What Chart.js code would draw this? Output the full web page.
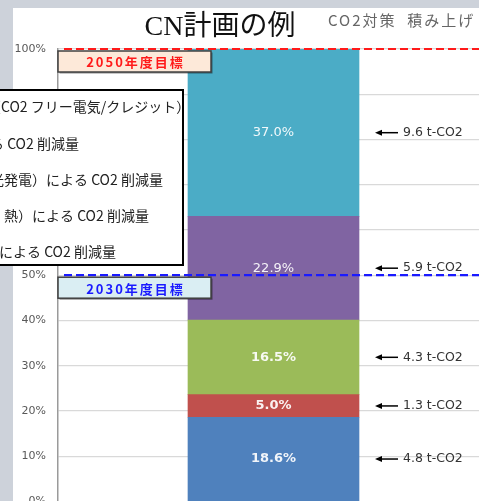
<!DOCTYPE html>
<html lang="ja">
<head>
<meta charset="utf-8">
<title>CN計画の例</title>
<script src="https://cdn.jsdelivr.net/npm/chart.js@4.4.1/dist/chart.umd.min.js"></script>
<style>
  html, body { margin: 0; padding: 0; width: 479px; height: 501px; overflow: hidden; background: #cdd2da; }
  #panel { position: absolute; left: 13px; top: 8px; width: 480px; height: 520px; background: #ffffff; }
  #chart { position: absolute; left: 0; top: 0; }
</style>
</head>
<body>
<div id="panel"></div>
<canvas id="chart" width="489" height="520"></canvas>
<script>
// Data (stack order: bottom -> top)
const categories = ['CN計画'];
const seriesShares = [18.6, 5.0, 16.5, 22.9, 37.0];   // % of total
const seriesTonnes = [4.8, 1.3, 4.3, 5.9, 9.6];       // t-CO2
const legendLabels = [                                 // same order as the series, only the visible part
    'による CO2 削減量',
    '熱）による CO2 削減量',
    '光発電）による CO2 削減量',
    'る CO2 削減量',
    '（CO2 フリー電気/クレジット）'
];
const targetLabels = ['2050年度目標', '2030年度目標'];
const targetValues = [100, 50];
const yMin = 0, yMax = 100, yStep = 10;

// Styles
const seriesColors = ['#4f81bd', '#c0504d', '#9bbb59', '#8064a2', '#4bacc6'];
const labelBold = [true, true, true, false, false];
const targetColors = ['#ff1a1a', '#1a1aff'];
const targetFills = ['#fde9d9', '#daeef3'];
const legendTextX = [-1, 4, -10, -10, -13];   // text start per row (clipped by the window edge)

const slidePlugin = {
    id: 'slide',
    beforeDraw(chart) {
        const ctx = chart.ctx;
        ctx.save();
        ctx.textBaseline = 'middle';
        ctx.fillStyle = '#111';
        ctx.font = '28px "Liberation Serif", "Noto Sans CJK JP", serif';
        ctx.textAlign = 'center';
        ctx.fillText('CN計画の例', 220, 28);
        ctx.fillStyle = '#666';
        ctx.font = '15px "Noto Sans CJK JP", sans-serif';
        ctx.letterSpacing = '2px';
        ctx.textAlign = 'left';
        ctx.fillText('CO2対策  積み上げ', 328, 20);
        ctx.letterSpacing = '0px';
        ctx.restore();
    },
    afterDatasetsDraw(chart) {
        const { ctx, chartArea, scales: { y } } = chart;
        ctx.save();

        // segment labels + arrows on the right
        seriesShares.forEach((v, i) => {
            const bar = chart.getDatasetMeta(i).data[0];
            const c = bar.getCenterPoint();
            ctx.fillStyle = 'rgba(255,255,255,0.92)';
            ctx.font = (labelBold[i] ? 'bold ' : '') + '13px "DejaVu Sans", sans-serif';
            ctx.textAlign = 'center';
            ctx.textBaseline = 'middle';
            ctx.fillText(v.toFixed(1) + '%', c.x, c.y);

            // arrow
            ctx.strokeStyle = '#000';
            ctx.fillStyle = '#000';
            ctx.lineWidth = 1.5;
            ctx.beginPath();
            ctx.moveTo(381, c.y);
            ctx.lineTo(398, c.y);
            ctx.stroke();
            ctx.beginPath();
            ctx.moveTo(375, c.y);
            ctx.lineTo(382, c.y - 3);
            ctx.lineTo(382, c.y + 3);
            ctx.closePath();
            ctx.fill();

            ctx.fillStyle = '#333';
            ctx.font = '12.5px "DejaVu Sans", sans-serif';
            ctx.textAlign = 'left';
            ctx.fillText(seriesTonnes[i].toFixed(1) + ' t-CO2', 403, c.y);
        });

        // target lines and boxes
        targetValues.forEach((t, i) => {
            const py = y.getPixelForValue(t);
            ctx.setLineDash([8, 4]);
            ctx.strokeStyle = targetColors[i];
            ctx.lineWidth = 2.2;
            ctx.beginPath();
            ctx.moveTo(chartArea.left + 6, py);
            ctx.lineTo(chartArea.right, py);
            ctx.stroke();
            ctx.setLineDash([]);

            const bx = chartArea.left, by = py + 2, bw = 153, bh = 21;
            ctx.save();
            ctx.shadowColor = 'rgba(0,0,0,0.45)';
            ctx.shadowOffsetX = 1.5;
            ctx.shadowOffsetY = 1.5;
            ctx.fillStyle = targetFills[i];
            ctx.fillRect(bx, by, bw, bh);
            ctx.restore();
            ctx.strokeStyle = '#404040';
            ctx.lineWidth = 1.5;
            ctx.strokeRect(bx, by, bw, bh);

            ctx.fillStyle = targetColors[i];
            ctx.font = 'bold 13px "Noto Sans CJK JP", sans-serif';
            ctx.letterSpacing = '2px';
            ctx.textAlign = 'center';
            ctx.textBaseline = 'middle';
            ctx.fillText(targetLabels[i], bx + bw / 2 + 1, by + bh / 2 + 1);
            ctx.letterSpacing = '0px';
        });
        ctx.restore();
    },
    afterDraw(chart) {
        // legend box (left part is off-screen)
        const ctx = chart.ctx;
        ctx.save();
        ctx.fillStyle = '#fff';
        ctx.fillRect(-10, 90, 193, 175);
        ctx.strokeStyle = '#000';
        ctx.lineWidth = 2;
        ctx.strokeRect(-10, 90, 193, 175);
        ctx.fillStyle = '#222';
        ctx.font = '14px "Noto Sans CJK JP", sans-serif';
        ctx.textAlign = 'left';
        ctx.textBaseline = 'middle';
        const rows = legendLabels.slice().reverse();
        rows.forEach((txt, r) => {
            ctx.fillText(txt, legendTextX[legendLabels.length - 1 - r], 107 + r * 36.2);
        });
        ctx.restore();
    }
};

const datasets = seriesShares.map((v, i) => ({
    label: legendLabels[i],
    data: [v],
    backgroundColor: seriesColors[i],
    borderWidth: 0,
    barThickness: 171
}));

new Chart(document.getElementById('chart'), {
    type: 'bar',
    data: { labels: categories, datasets: datasets },
    options: {
        responsive: false,
        animation: false,
        layout: { padding: { top: 49, right: 0, bottom: 16, left: 0 } },
        plugins: {
            legend: { display: false },
            tooltip: { enabled: false },
            title: { display: false }
        },
        scales: {
            x: { stacked: true, display: false },
            y: {
                stacked: true,
                min: yMin,
                max: yMax,
                afterFit(scale) { scale.width = 58; },
                border: { display: true, color: '#9a9a9a', width: 1.5 },
                grid: { color: '#d9d9d9', lineWidth: 1.2, drawTicks: false },
                ticks: {
                    stepSize: yStep,
                    padding: 12,
                    color: '#595959',
                    font: { family: '"DejaVu Sans", sans-serif', size: 11 },
                    callback: v => v + '%'
                }
            }
        }
    },
    plugins: [slidePlugin]
});
</script>
</body>
</html>
